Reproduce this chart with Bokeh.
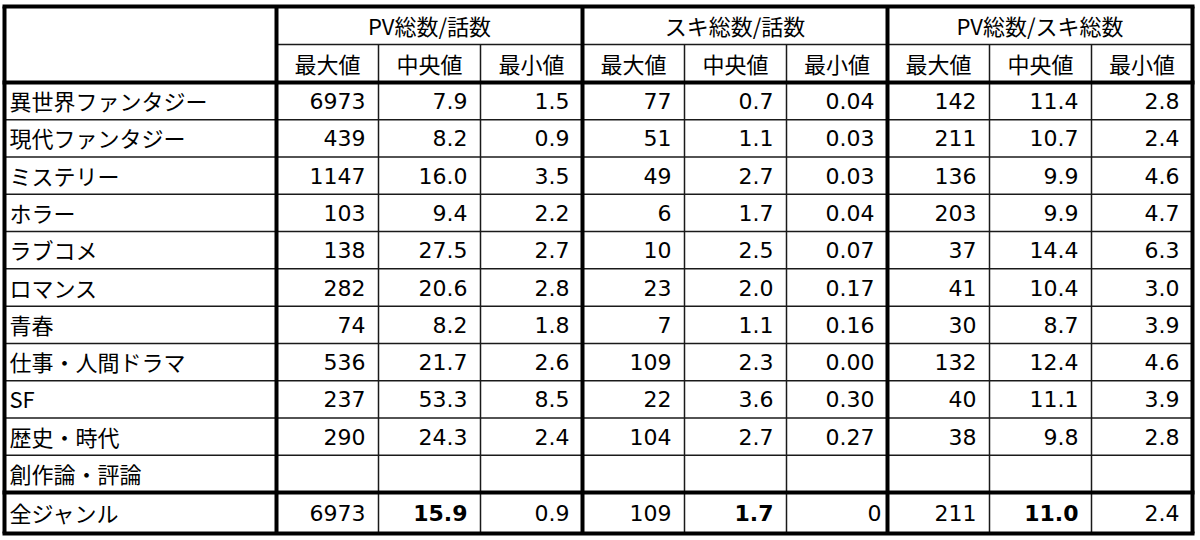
from bokeh.plotting import figure
from bokeh.models import Range1d
from bokeh.core.properties import value
from bokeh.embed import file_html
from bokeh.resources import INLINE

# ---- data ----
genres = ["異世界ファンタジー", "現代ファンタジー", "ミステリー", "ホラー", "ラブコメ", "ロマンス",
          "青春", "仕事・人間ドラマ", "SF", "歴史・時代", "創作論・評論"]
total_label = "全ジャンル"
groups = ["PV総数/話数", "スキ総数/話数", "PV総数/スキ総数"]
stats = ["最大値", "中央値", "最小値"]

pv_max = [6973, 439, 1147, 103, 138, 282, 74, 536, 237, 290, None]
pv_med = [7.9, 8.2, 16.0, 9.4, 27.5, 20.6, 8.2, 21.7, 53.3, 24.3, None]
pv_min = [1.5, 0.9, 3.5, 2.2, 2.7, 2.8, 1.8, 2.6, 8.5, 2.4, None]
suki_max = [77, 51, 49, 6, 10, 23, 7, 109, 22, 104, None]
suki_med = [0.7, 1.1, 2.7, 1.7, 2.5, 2.0, 1.1, 2.3, 3.6, 2.7, None]
suki_min = [0.04, 0.03, 0.03, 0.04, 0.07, 0.17, 0.16, 0.00, 0.30, 0.27, None]
ratio_max = [142, 211, 136, 203, 37, 41, 30, 132, 40, 38, None]
ratio_med = [11.4, 10.7, 9.9, 9.9, 14.4, 10.4, 8.7, 12.4, 11.1, 9.8, None]
ratio_min = [2.8, 2.4, 4.6, 4.7, 6.3, 3.0, 3.9, 4.6, 3.9, 2.8, None]

total_values = [6973, 15.9, 0.9, 109, 1.7, 0, 211, 11.0, 2.4]

# ---- styling / layout ----
col_fmt = ["{:.0f}", "{:.1f}", "{:.1f}", "{:.0f}", "{:.1f}", "{:.2f}", "{:.0f}", "{:.1f}", "{:.1f}"]
total_fmt = ["{:.0f}", "{:.1f}", "{:.1f}", "{:.0f}", "{:.1f}", "{:.0f}", "{:.0f}", "{:.1f}", "{:.1f}"]
total_pad = [13, 13, 13, 13, 13, 6, 13, 13, 13]
bold_cols = [1, 4, 7]
PAD = 13

x_edges = [4, 276, 378, 480, 582, 684, 786, 887, 989, 1091, 1192]
thick_x = {0, 1, 4, 7, 10}
y_top, y_head_mid, y_head = 6, 44, 82
row_h = (492 - 82) / 11.0
y_rows = [y_head + i * row_h for i in range(12)]  # 11 data rows
y_bottom = 533

CJK = "Noto Sans CJK JP"
NUM = "DejaVu Sans"
FS = "22px"
BLACK = "#000000"

p = figure(width=1200, height=540, x_range=Range1d(0, 1200), y_range=Range1d(540, 0),
           output_backend="svg", toolbar_location=None, min_border=0)
p.axis.visible = False
p.grid.visible = False
p.outline_line_color = None
p.background_fill_color = "white"
p.border_fill_color = "white"

# thin lines
tx0, ty0, tx1, ty1 = [], [], [], []
tx0.append(x_edges[1]); tx1.append(x_edges[-1]); ty0.append(y_head_mid); ty1.append(y_head_mid)
for y in y_rows[1:-1]:
    tx0.append(x_edges[0]); tx1.append(x_edges[-1]); ty0.append(y); ty1.append(y)
for i, x in enumerate(x_edges):
    if i not in thick_x:
        tx0.append(x); tx1.append(x); ty0.append(y_head_mid); ty1.append(y_bottom)
p.segment(tx0, ty0, tx1, ty1, line_color="#1a1a1a", line_width=1.5)

# thick lines
kx0, ky0, kx1, ky1 = [], [], [], []
for y in [y_top, y_head, y_rows[-1], y_bottom]:
    kx0.append(x_edges[0] - 2); kx1.append(x_edges[-1] + 2); ky0.append(y); ky1.append(y)
for i in sorted(thick_x):
    kx0.append(x_edges[i]); kx1.append(x_edges[i]); ky0.append(y_top); ky1.append(y_bottom)
p.segment(kx0, ky0, kx1, ky1, line_color=BLACK, line_width=4)

# header text
gx, gy, gt = [], [], []
for g, name in enumerate(groups):
    gx.append((x_edges[1 + 3 * g] + x_edges[4 + 3 * g]) / 2)
    gy.append((y_top + y_head_mid) / 2 - 1)
    gt.append(name)
for c in range(9):
    gx.append((x_edges[1 + c] + x_edges[2 + c]) / 2)
    gy.append((y_head_mid + y_head) / 2 - 1)
    gt.append(stats[c % 3])
p.text(x=gx, y=gy, text=gt, text_align="center", text_baseline="middle",
       text_font=value(CJK), text_font_size=FS, text_color=BLACK)

# genre labels
lx, ly, lt = [], [], []
for r, gname in enumerate(genres + [total_label]):
    lx.append(x_edges[0] + 5)
    yc = (y_rows[r] + y_rows[r + 1]) / 2 if r < 11 else (y_rows[-1] + y_bottom) / 2
    ly.append(yc - 1)
    lt.append(gname)
p.text(x=lx, y=ly, text=lt, text_align="left", text_baseline="middle",
       text_font=value(CJK), text_font_size=FS, text_color=BLACK)

# numbers
columns = [pv_max, pv_med, pv_min, suki_max, suki_med, suki_min, ratio_max, ratio_med, ratio_min]
nx, ny, nt = [], [], []
bx, by, bt = [], [], []
for c, col in enumerate(columns):
    xr = x_edges[2 + c]
    for r, v in enumerate(col):
        if v is None:
            continue
        nx.append(xr - PAD); ny.append((y_rows[r] + y_rows[r + 1]) / 2)
        nt.append(col_fmt[c].format(v))
    tv = total_fmt[c].format(total_values[c])
    yc = (y_rows[-1] + y_bottom) / 2
    if c in bold_cols:
        bx.append(xr - total_pad[c]); by.append(yc); bt.append(tv)
    else:
        nx.append(xr - total_pad[c]); ny.append(yc); nt.append(tv)
p.text(x=nx, y=ny, text=nt, text_align="right", text_baseline="middle",
       text_font=value(NUM), text_font_size=FS, text_color=BLACK)
p.text(x=bx, y=by, text=bt, text_align="right", text_baseline="middle",
       text_font=value(NUM), text_font_size=FS, text_font_style="bold", text_color=BLACK)

open("out.html", "w").write(file_html(p, INLINE))
